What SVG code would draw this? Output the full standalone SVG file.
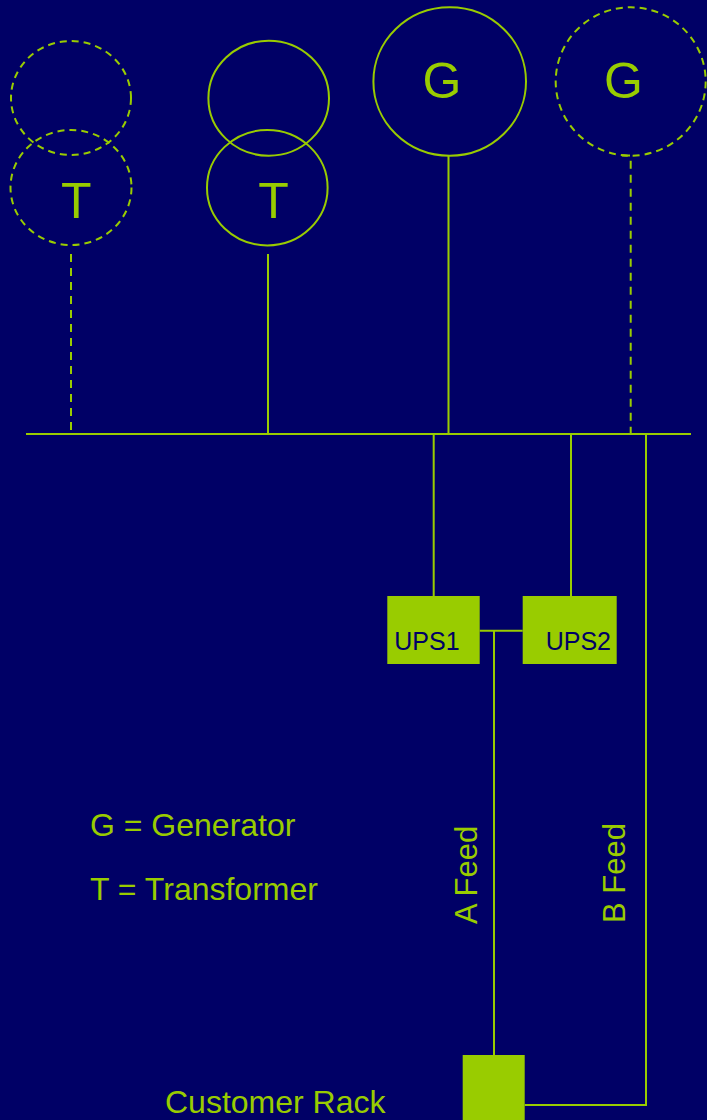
<svg xmlns="http://www.w3.org/2000/svg" width="707" height="1120" viewBox="0 0 707 1120">
<style>
.ln{stroke:#99CC00;stroke-width:2;fill:none}
.dl{stroke:#99CC00;stroke-width:2;fill:none;stroke-dasharray:8 6}
.cs{stroke:#99CC00;stroke-width:2;fill:none}
.cd{stroke:#99CC00;stroke-width:2;fill:none;stroke-dasharray:7 5}
.sym{font-family:"Liberation Sans",Arial,sans-serif;font-size:50px;fill:#99CC00}
.lbl{font-family:"Liberation Sans",Arial,sans-serif;font-size:32px;fill:#99CC00}
.vl{font-family:"Liberation Sans",Arial,sans-serif;font-size:31px;fill:#99CC00}
.box{fill:#99CC00}
.bt{font-family:"Liberation Sans",Arial,sans-serif;font-size:25px;fill:#000066}
</style>
<rect x="0" y="0" width="707" height="1120" fill="#000066"/>
<g id="connectors">
<line class="ln" x1="26" y1="434" x2="691" y2="434" stroke-width="2.4"/>
<line class="dl" x1="71" y1="254" x2="71" y2="434"/>
<line class="ln" x1="268" y1="254" x2="268" y2="434"/>
<line class="ln" x1="448.5" y1="155.5" x2="448.5" y2="434"/>
<polyline class="dl" points="622,155.5 630.7,155.5 630.7,434"/>
<line class="ln" x1="433.7" y1="434" x2="433.7" y2="596"/>
<line class="ln" x1="571" y1="434" x2="571" y2="596"/>
<line class="ln" x1="479.7" y1="630.7" x2="522.7" y2="630.7"/>
<line class="ln" x1="494" y1="630.7" x2="494" y2="1055"/>
<polyline class="ln" points="646,434 646,1105 524.7,1105"/>
</g>
<g id="transformer1">
<ellipse class="cd" cx="71" cy="98" rx="60" ry="57"/>
<ellipse class="cd" cx="71" cy="187.5" rx="60.5" ry="57.5"/>
<text class="sym" x="61" y="218.3">T</text>
</g>
<g id="transformer2">
<ellipse class="cs" cx="268.7" cy="98.2" rx="60.3" ry="57.5"/>
<ellipse class="cs" cx="267.3" cy="187.7" rx="60.3" ry="57.7"/>
<text class="sym" x="258.3" y="218.3">T</text>
</g>
<g id="generator1">
<ellipse class="cs" cx="449.7" cy="81.5" rx="76.3" ry="74.2"/>
<text class="sym" x="422.5" y="98.3">G</text>
</g>
<g id="generator2">
<ellipse class="cd" cx="630.7" cy="81.5" rx="75" ry="74.2"/>
<text class="sym" x="604" y="98.3">G</text>
</g>
<g id="ups1">
<rect class="box" x="387.3" y="596" width="92.4" height="68"/>
<text class="bt" x="394.3" y="650">UPS1</text>
</g>
<g id="ups2">
<rect class="box" x="522.7" y="596" width="94" height="68"/>
<text class="bt" x="545.7" y="650">UPS2</text>
</g>
<g id="customer-rack">
<rect class="box" x="462.7" y="1055" width="62" height="65"/>
<text class="lbl" x="165" y="1113.3">Customer Rack</text>
</g>
<g id="labels">
<text class="lbl" x="90" y="836">G = Generator</text>
<text class="lbl" x="90" y="900">T = Transformer</text>
<text class="vl" transform="translate(477.3,924) rotate(-90)">A Feed</text>
<text class="vl" transform="translate(625,923) rotate(-90)">B Feed</text>
</g>
</svg>
